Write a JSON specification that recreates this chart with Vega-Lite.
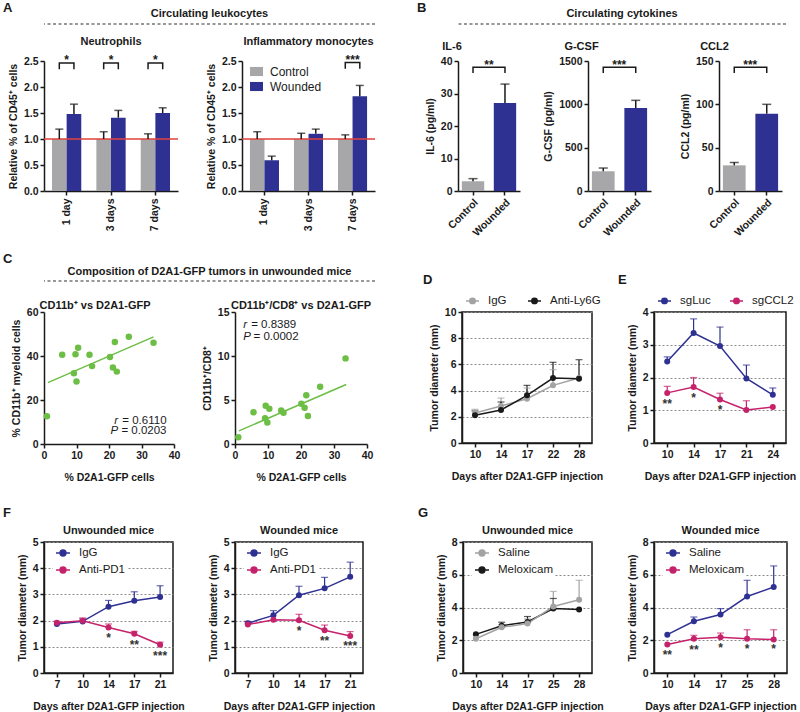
{
"$schema": "https://vega.github.io/schema/vega-lite/v6.json",
"padding": {"left": 0, "top": 2, "right": 0, "bottom": 0},
"background": "white",
"datasets": {
 "leuko": [
  {"panel":"Neutrophils","day":"1 day","group":"Control","value":1.0,"err":1.19},
  {"panel":"Neutrophils","day":"1 day","group":"Wounded","value":1.48,"err":1.67},
  {"panel":"Neutrophils","day":"3 days","group":"Control","value":1.0,"err":1.14},
  {"panel":"Neutrophils","day":"3 days","group":"Wounded","value":1.41,"err":1.55},
  {"panel":"Neutrophils","day":"7 days","group":"Control","value":1.0,"err":1.1},
  {"panel":"Neutrophils","day":"7 days","group":"Wounded","value":1.5,"err":1.6},
  {"panel":"Monocytes","day":"1 day","group":"Control","value":1.0,"err":1.14},
  {"panel":"Monocytes","day":"1 day","group":"Wounded","value":0.59,"err":0.67},
  {"panel":"Monocytes","day":"3 days","group":"Control","value":1.0,"err":1.11},
  {"panel":"Monocytes","day":"3 days","group":"Wounded","value":1.1,"err":1.19},
  {"panel":"Monocytes","day":"7 days","group":"Control","value":1.0,"err":1.08},
  {"panel":"Monocytes","day":"7 days","group":"Wounded","value":1.82,"err":2.03}
 ],
 "leukoRef": [{"panel":"Neutrophils","value":1.0},{"panel":"Monocytes","value":1.0}],
 "leukoBr": [
  {"panel":"Neutrophils","day":"1 day","id":"n1","group":"Control","value":2.34,"ord":1},
  {"panel":"Neutrophils","day":"1 day","id":"n1","group":"Control","value":2.46,"ord":2},
  {"panel":"Neutrophils","day":"1 day","id":"n1","group":"Wounded","value":2.46,"ord":3},
  {"panel":"Neutrophils","day":"1 day","id":"n1","group":"Wounded","value":2.34,"ord":4},
  {"panel":"Neutrophils","day":"3 days","id":"n3","group":"Control","value":2.34,"ord":1},
  {"panel":"Neutrophils","day":"3 days","id":"n3","group":"Control","value":2.46,"ord":2},
  {"panel":"Neutrophils","day":"3 days","id":"n3","group":"Wounded","value":2.46,"ord":3},
  {"panel":"Neutrophils","day":"3 days","id":"n3","group":"Wounded","value":2.34,"ord":4},
  {"panel":"Neutrophils","day":"7 days","id":"n7","group":"Control","value":2.34,"ord":1},
  {"panel":"Neutrophils","day":"7 days","id":"n7","group":"Control","value":2.46,"ord":2},
  {"panel":"Neutrophils","day":"7 days","id":"n7","group":"Wounded","value":2.46,"ord":3},
  {"panel":"Neutrophils","day":"7 days","id":"n7","group":"Wounded","value":2.34,"ord":4},
  {"panel":"Monocytes","day":"7 days","id":"m7","group":"Control","value":2.35,"ord":1},
  {"panel":"Monocytes","day":"7 days","id":"m7","group":"Control","value":2.47,"ord":2},
  {"panel":"Monocytes","day":"7 days","id":"m7","group":"Wounded","value":2.47,"ord":3},
  {"panel":"Monocytes","day":"7 days","id":"m7","group":"Wounded","value":2.35,"ord":4}
 ],
 "leukoSig": [
  {"panel":"Neutrophils","day":"1 day","label":"*","value":2.57},
  {"panel":"Neutrophils","day":"3 days","label":"*","value":2.57},
  {"panel":"Neutrophils","day":"7 days","label":"*","value":2.57},
  {"panel":"Monocytes","day":"7 days","label":"***","value":2.57}
 ],
 "cyto": [
  {"panel":"IL-6","group":"Control","value":3.0,"err":3.8},
  {"panel":"IL-6","group":"Wounded","value":27.1,"err":32.9},
  {"panel":"G-CSF","group":"Control","value":228,"err":265},
  {"panel":"G-CSF","group":"Wounded","value":958,"err":1046},
  {"panel":"CCL2","group":"Control","value":29.6,"err":33},
  {"panel":"CCL2","group":"Wounded","value":89.2,"err":100}
 ],
 "cytoBr": [
  {"panel":"IL-6","group":"Control","value":36.3,"ord":1},
  {"panel":"IL-6","group":"Control","value":38.1,"ord":2},
  {"panel":"IL-6","group":"Wounded","value":38.1,"ord":3},
  {"panel":"IL-6","group":"Wounded","value":36.3,"ord":4},
  {"panel":"G-CSF","group":"Control","value":1362,"ord":1},
  {"panel":"G-CSF","group":"Control","value":1428,"ord":2},
  {"panel":"G-CSF","group":"Wounded","value":1428,"ord":3},
  {"panel":"G-CSF","group":"Wounded","value":1362,"ord":4},
  {"panel":"CCL2","group":"Control","value":136.2,"ord":1},
  {"panel":"CCL2","group":"Control","value":142.7,"ord":2},
  {"panel":"CCL2","group":"Wounded","value":142.7,"ord":3},
  {"panel":"CCL2","group":"Wounded","value":136.2,"ord":4}
 ],
 "cytoSig": [
  {"panel":"IL-6","group":"Control","label":"**","value":39.6},
  {"panel":"G-CSF","group":"Control","label":"***","value":1486},
  {"panel":"CCL2","group":"Control","label":"***","value":148.6}
 ],
 "scat": [
  {"panel":"C1","x":0.9,"y":12.6},{"panel":"C1","x":5.6,"y":40.6},{"panel":"C1","x":9.7,"y":40.8},
  {"panel":"C1","x":9.2,"y":32.2},{"panel":"C1","x":10.0,"y":28.4},{"panel":"C1","x":10.5,"y":43.7},
  {"panel":"C1","x":14.0,"y":40.6},{"panel":"C1","x":14.8,"y":35.4},{"panel":"C1","x":20.3,"y":39.5},
  {"panel":"C1","x":21.2,"y":34.8},{"panel":"C1","x":21.8,"y":46.4},{"panel":"C1","x":22.4,"y":32.9},
  {"panel":"C1","x":26.1,"y":48.7},{"panel":"C1","x":33.7,"y":46.0},
  {"panel":"C2","x":1.0,"y":0.76},{"panel":"C2","x":5.6,"y":3.6},{"panel":"C2","x":9.3,"y":4.35},
  {"panel":"C2","x":10.4,"y":4.0},{"panel":"C2","x":9.1,"y":2.94},{"panel":"C2","x":9.8,"y":2.44},
  {"panel":"C2","x":14.0,"y":3.8},{"panel":"C2","x":14.7,"y":3.55},{"panel":"C2","x":20.1,"y":4.58},
  {"panel":"C2","x":21.1,"y":4.12},{"panel":"C2","x":21.6,"y":5.53},{"panel":"C2","x":22.1,"y":3.17},
  {"panel":"C2","x":25.8,"y":6.5},{"panel":"C2","x":33.5,"y":9.73}
 ],
 "scatLine": [
  {"panel":"C1","x":1.2,"y":27.9},{"panel":"C1","x":33.7,"y":48.7},
  {"panel":"C2","x":1.2,"y":1.49},{"panel":"C2","x":33.7,"y":6.76}
 ],
 "scatText": [
  {"panel":"C1","style":"italic","x":22.8,"y":10.6,"text":"r"},
  {"panel":"C1","style":"normal","x":37.7,"y":10.6,"text":"= 0.6110"},
  {"panel":"C1","style":"italic","x":22.8,"y":5.8,"text":"P"},
  {"panel":"C1","style":"normal","x":37.7,"y":5.8,"text":"= 0.0203"},
  {"panel":"C2","style":"italic","x":2.5,"y":13.55,"text":"r"},
  {"panel":"C2","style":"normal","x":4.9,"y":13.55,"text":"= 0.8389"},
  {"panel":"C2","style":"italic","x":2.5,"y":12.2,"text":"P"},
  {"panel":"C2","style":"normal","x":5.6,"y":12.2,"text":"= 0.0002"}
 ],
 "tumor": [
  {"panel":"D","series":"IgG","day":10,"value":2.29,"err":2.57},
  {"panel":"D","series":"IgG","day":14,"value":2.82,"err":3.43},
  {"panel":"D","series":"IgG","day":17,"value":3.38,"err":4.2},
  {"panel":"D","series":"IgG","day":22,"value":4.4,"err":5.6},
  {"panel":"D","series":"IgG","day":28,"value":4.96},
  {"panel":"D","series":"Anti-Ly6G","day":10,"value":2.11,"err":2.45},
  {"panel":"D","series":"Anti-Ly6G","day":14,"value":2.52,"err":3.13},
  {"panel":"D","series":"Anti-Ly6G","day":17,"value":3.64,"err":4.4},
  {"panel":"D","series":"Anti-Ly6G","day":22,"value":4.96,"err":6.16},
  {"panel":"D","series":"Anti-Ly6G","day":28,"value":4.91,"err":6.36},
  {"panel":"E","series":"sgLuc","day":10,"value":2.49,"err":2.63},
  {"panel":"E","series":"sgLuc","day":14,"value":3.36,"err":3.79},
  {"panel":"E","series":"sgLuc","day":17,"value":2.96,"err":3.54},
  {"panel":"E","series":"sgLuc","day":21,"value":1.97,"err":2.38},
  {"panel":"E","series":"sgLuc","day":24,"value":1.47,"err":1.68},
  {"panel":"E","series":"sgCCL2","day":10,"value":1.53,"err":1.73},
  {"panel":"E","series":"sgCCL2","day":14,"value":1.71,"err":2.0},
  {"panel":"E","series":"sgCCL2","day":17,"value":1.33,"err":1.52},
  {"panel":"E","series":"sgCCL2","day":21,"value":1.01,"err":1.29},
  {"panel":"E","series":"sgCCL2","day":24,"value":1.1},
  {"panel":"F1","series":"IgG","day":7,"value":1.87},
  {"panel":"F1","series":"IgG","day":10,"value":1.97,"err":2.06},
  {"panel":"F1","series":"IgG","day":14,"value":2.53,"err":2.77},
  {"panel":"F1","series":"IgG","day":17,"value":2.76,"err":3.1},
  {"panel":"F1","series":"IgG","day":21,"value":2.9,"err":3.33},
  {"panel":"F1","series":"Anti-PD1","day":7,"value":1.92,"err":1.97},
  {"panel":"F1","series":"Anti-PD1","day":10,"value":1.99,"err":2.1},
  {"panel":"F1","series":"Anti-PD1","day":14,"value":1.74,"err":1.87},
  {"panel":"F1","series":"Anti-PD1","day":17,"value":1.5,"err":1.59},
  {"panel":"F1","series":"Anti-PD1","day":21,"value":1.08,"err":1.18},
  {"panel":"F2","series":"IgG","day":7,"value":1.9,"err":1.97},
  {"panel":"F2","series":"IgG","day":10,"value":2.2,"err":2.38},
  {"panel":"F2","series":"IgG","day":14,"value":2.97,"err":3.31},
  {"panel":"F2","series":"IgG","day":17,"value":3.23,"err":3.65},
  {"panel":"F2","series":"IgG","day":21,"value":3.67,"err":4.23},
  {"panel":"F2","series":"Anti-PD1","day":7,"value":1.85,"err":1.96},
  {"panel":"F2","series":"Anti-PD1","day":10,"value":2.03},
  {"panel":"F2","series":"Anti-PD1","day":14,"value":2.01,"err":2.24},
  {"panel":"F2","series":"Anti-PD1","day":17,"value":1.63,"err":1.83},
  {"panel":"F2","series":"Anti-PD1","day":21,"value":1.41,"err":1.58},
  {"panel":"G1","series":"Meloxicam","day":10,"value":2.36},
  {"panel":"G1","series":"Meloxicam","day":14,"value":2.89,"err":3.1},
  {"panel":"G1","series":"Meloxicam","day":17,"value":3.12,"err":3.45},
  {"panel":"G1","series":"Meloxicam","day":25,"value":3.94,"err":4.55},
  {"panel":"G1","series":"Meloxicam","day":28,"value":3.88},
  {"panel":"G1","series":"Saline","day":10,"value":2.09},
  {"panel":"G1","series":"Saline","day":14,"value":2.79,"err":2.95},
  {"panel":"G1","series":"Saline","day":17,"value":3.02,"err":3.3},
  {"panel":"G1","series":"Saline","day":25,"value":4.06,"err":4.98},
  {"panel":"G1","series":"Saline","day":28,"value":4.47,"err":5.66},
  {"panel":"G2","series":"Saline","day":10,"value":2.34},
  {"panel":"G2","series":"Saline","day":14,"value":3.16,"err":3.42},
  {"panel":"G2","series":"Saline","day":17,"value":3.57,"err":3.93},
  {"panel":"G2","series":"Saline","day":25,"value":4.67,"err":5.66},
  {"panel":"G2","series":"Saline","day":28,"value":5.25,"err":6.54},
  {"panel":"G2","series":"Meloxicam","day":10,"value":1.74},
  {"panel":"G2","series":"Meloxicam","day":14,"value":2.09,"err":2.3},
  {"panel":"G2","series":"Meloxicam","day":17,"value":2.19,"err":2.44},
  {"panel":"G2","series":"Meloxicam","day":25,"value":2.09,"err":2.64},
  {"panel":"G2","series":"Meloxicam","day":28,"value":2.05,"err":2.64}
 ],
 "tumorSig": [
  {"panel":"E","day":10,"label":"**","value":1.29},
  {"panel":"E","day":14,"label":"*","value":1.48},
  {"panel":"E","day":17,"label":"*","value":1.11},
  {"panel":"F1","day":14,"label":"*","value":1.46},
  {"panel":"F1","day":17,"label":"**","value":1.18},
  {"panel":"F1","day":21,"label":"***","value":0.77},
  {"panel":"F2","day":14,"label":"*","value":1.73},
  {"panel":"F2","day":17,"label":"**","value":1.35},
  {"panel":"F2","day":21,"label":"***","value":1.15},
  {"panel":"G2","day":10,"label":"**","value":1.27},
  {"panel":"G2","day":14,"label":"**","value":1.58},
  {"panel":"G2","day":17,"label":"*","value":1.74},
  {"panel":"G2","day":25,"label":"*","value":1.62},
  {"panel":"G2","day":28,"label":"*","value":1.62}
 ],
 "one": [{"k": 1}],
 "none": []
},
"spacing": 0,
"resolve": {"scale": {"color": "independent", "xOffset": "independent"}, "legend": {"color": "independent"}},
"vconcat": [
 {
  "hconcat": [
   {"width": 44, "height": 1, "title": {"text": "A", "anchor": "start", "dx": 3, "offset": 9, "fontSize": 13}, "data": {"name": "none"}, "mark": "rule", "encoding": {}},
   {"width": 331, "height": 1, "title": {"text": "Circulating leukocytes", "offset": 4}, "data": {"name": "one"}, "mark": {"type": "rule", "strokeDash": [3, 2.5], "color": "#333333", "strokeWidth": 1.2}, "encoding": {"y": {"datum": 1, "type": "quantitative", "scale": {"domain": [0, 1]}, "axis": null}}},
   {"width": 83, "height": 1, "title": {"text": "B", "anchor": "start", "dx": 42, "offset": 9, "fontSize": 13}, "data": {"name": "none"}, "mark": "rule", "encoding": {}},
   {"width": 328, "height": 1, "title": {"text": "Circulating cytokines", "offset": 4}, "data": {"name": "one"}, "mark": {"type": "rule", "strokeDash": [3, 2.5], "color": "#333333", "strokeWidth": 1.2}, "encoding": {"y": {"datum": 1, "type": "quantitative", "scale": {"domain": [0, 1]}, "axis": null}}}
  ],
  "spacing": 0, "bounds": "flush"
 },
 {"width": 1, "height": 11, "data": {"name": "none"}, "mark": "rule", "encoding": {}},
 {
  "hconcat": [
   {"width": 44, "height": 130, "data": {"name": "none"}, "mark": "rule", "encoding": {}},
   {
    "width": 134, "height": 130,
    "title": {"text": "Neutrophils", "offset": 7},
    "layer": [
     {"data": {"name": "leuko"}, "transform": [{"filter": "datum.panel === 'Neutrophils'"}], "mark": {"type": "bar"},
      "encoding": {
       "x": {"field": "day", "type": "nominal", "sort": ["1 day", "3 days", "7 days"], "scale": {"paddingInner": 0.34, "paddingOuter": 0.18}, "axis": {"labelAngle": -90, "title": null, "labelPadding": 3}},
       "xOffset": {"field": "group", "type": "nominal", "sort": ["Control", "Wounded"], "scale": {"paddingInner": 0, "paddingOuter": 0}},
       "y": {"field": "value", "type": "quantitative", "scale": {"domain": [0, 2.5]}, "axis": {"values": [0, 0.5, 1, 1.5, 2, 2.5], "format": ".1f", "labelOverlap": false}, "title": "Relative % of CD45⁺ cells"},
       "color": {"field": "group", "type": "nominal", "scale": {"domain": ["Control", "Wounded"], "range": ["#a7a7aa", "#2e3192"]}, "legend": null}
      }},
     {"data": {"name": "leukoRef"}, "transform": [{"filter": "datum.panel === 'Neutrophils'"}], "mark": {"type": "rule", "color": "#e2423b", "strokeWidth": 1.5},
      "encoding": {"y": {"field": "value", "type": "quantitative", "scale": {"domain": [0, 2.5]}, "axis": {"values": [0, 0.5, 1, 1.5, 2, 2.5], "format": ".1f", "labelOverlap": false}, "title": "Relative % of CD45⁺ cells"}}},
     {"data": {"name": "leuko"}, "transform": [{"filter": "datum.panel === 'Neutrophils'"}], "mark": {"type": "rule", "color": "#1a1a1a", "strokeWidth": 1.5},
      "encoding": {
       "x": {"field": "day", "type": "nominal", "sort": ["1 day", "3 days", "7 days"]},
       "xOffset": {"field": "group", "type": "nominal", "sort": ["Control", "Wounded"]},
       "y": {"field": "value", "type": "quantitative", "scale": {"domain": [0, 2.5]}, "axis": {"values": [0, 0.5, 1, 1.5, 2, 2.5], "format": ".1f", "labelOverlap": false}, "title": "Relative % of CD45⁺ cells"},
       "y2": {"field": "err"}
      }},
     {"data": {"name": "leuko"}, "transform": [{"filter": "datum.panel === 'Neutrophils'"}], "mark": {"type": "tick", "orient": "horizontal", "color": "#1a1a1a", "size": 8, "thickness": 1.5},
      "encoding": {
       "x": {"field": "day", "type": "nominal", "sort": ["1 day", "3 days", "7 days"]},
       "xOffset": {"field": "group", "type": "nominal", "sort": ["Control", "Wounded"]},
       "y": {"field": "err", "type": "quantitative", "scale": {"domain": [0, 2.5]}, "axis": {"values": [0, 0.5, 1, 1.5, 2, 2.5], "format": ".1f", "labelOverlap": false}, "title": "Relative % of CD45⁺ cells"}
      }},
     {"data": {"name": "leukoBr"}, "transform": [{"filter": "datum.panel === 'Neutrophils'"}], "mark": {"type": "line", "color": "#1a1a1a", "strokeWidth": 1.5},
      "encoding": {
       "x": {"field": "day", "type": "nominal", "sort": ["1 day", "3 days", "7 days"]},
       "xOffset": {"field": "group", "type": "nominal", "sort": ["Control", "Wounded"]},
       "y": {"field": "value", "type": "quantitative", "scale": {"domain": [0, 2.5]}, "axis": {"values": [0, 0.5, 1, 1.5, 2, 2.5], "format": ".1f", "labelOverlap": false}, "title": "Relative % of CD45⁺ cells"},
       "order": {"field": "ord"},
       "detail": {"field": "id"}
      }},
     {"data": {"name": "leukoSig"}, "transform": [{"filter": "datum.panel === 'Neutrophils'"}], "mark": {"type": "text", "fontSize": 12, "fontWeight": "bold", "color": "#1a1a1a", "baseline": "middle", "dy": 3},
      "encoding": {
       "x": {"field": "day", "type": "nominal", "sort": ["1 day", "3 days", "7 days"]},
       "y": {"field": "value", "type": "quantitative", "scale": {"domain": [0, 2.5]}, "axis": {"values": [0, 0.5, 1, 1.5, 2, 2.5], "format": ".1f", "labelOverlap": false}, "title": "Relative % of CD45⁺ cells"},
       "text": {"field": "label"}
      }}
    ]
   },
   {"width": 64, "height": 130, "data": {"name": "none"}, "mark": "rule", "encoding": {}},
   {
    "width": 133, "height": 130,
    "title": {"text": "Inflammatory monocytes", "offset": 7},
    "layer": [
     {"data": {"name": "leuko"}, "transform": [{"filter": "datum.panel === 'Monocytes'"}], "mark": {"type": "bar"},
      "encoding": {
       "x": {"field": "day", "type": "nominal", "sort": ["1 day", "3 days", "7 days"], "scale": {"paddingInner": 0.34, "paddingOuter": 0.18}, "axis": {"labelAngle": -90, "title": null, "labelPadding": 3}},
       "xOffset": {"field": "group", "type": "nominal", "sort": ["Control", "Wounded"], "scale": {"paddingInner": 0, "paddingOuter": 0}},
       "y": {"field": "value", "type": "quantitative", "scale": {"domain": [0, 2.5]}, "axis": {"values": [0, 0.5, 1, 1.5, 2, 2.5], "format": ".1f", "labelOverlap": false}, "title": "Relative % of CD45⁺ cells"},
       "color": {"field": "group", "type": "nominal", "scale": {"domain": ["Control", "Wounded"], "range": ["#a7a7aa", "#2e3192"]},
        "legend": {"orient": "none", "legendX": 8, "legendY": 4, "title": null, "symbolType": "M-1,-0.7H1V0.7H-1Z", "symbolSize": 169, "symbolStrokeWidth": 0, "labelFontSize": 12, "labelOffset": 7, "rowPadding": 2, "padding": 0}}
      }},
     {"data": {"name": "leukoRef"}, "transform": [{"filter": "datum.panel === 'Monocytes'"}], "mark": {"type": "rule", "color": "#e2423b", "strokeWidth": 1.5},
      "encoding": {"y": {"field": "value", "type": "quantitative", "scale": {"domain": [0, 2.5]}, "axis": {"values": [0, 0.5, 1, 1.5, 2, 2.5], "format": ".1f", "labelOverlap": false}, "title": "Relative % of CD45⁺ cells"}}},
     {"data": {"name": "leuko"}, "transform": [{"filter": "datum.panel === 'Monocytes'"}], "mark": {"type": "rule", "color": "#1a1a1a", "strokeWidth": 1.5},
      "encoding": {
       "x": {"field": "day", "type": "nominal", "sort": ["1 day", "3 days", "7 days"]},
       "xOffset": {"field": "group", "type": "nominal", "sort": ["Control", "Wounded"]},
       "y": {"field": "value", "type": "quantitative", "scale": {"domain": [0, 2.5]}, "axis": {"values": [0, 0.5, 1, 1.5, 2, 2.5], "format": ".1f", "labelOverlap": false}, "title": "Relative % of CD45⁺ cells"},
       "y2": {"field": "err"}
      }},
     {"data": {"name": "leuko"}, "transform": [{"filter": "datum.panel === 'Monocytes'"}], "mark": {"type": "tick", "orient": "horizontal", "color": "#1a1a1a", "size": 8, "thickness": 1.5},
      "encoding": {
       "x": {"field": "day", "type": "nominal", "sort": ["1 day", "3 days", "7 days"]},
       "xOffset": {"field": "group", "type": "nominal", "sort": ["Control", "Wounded"]},
       "y": {"field": "err", "type": "quantitative", "scale": {"domain": [0, 2.5]}, "axis": {"values": [0, 0.5, 1, 1.5, 2, 2.5], "format": ".1f", "labelOverlap": false}, "title": "Relative % of CD45⁺ cells"}
      }},
     {"data": {"name": "leukoBr"}, "transform": [{"filter": "datum.panel === 'Monocytes'"}], "mark": {"type": "line", "color": "#1a1a1a", "strokeWidth": 1.5},
      "encoding": {
       "x": {"field": "day", "type": "nominal", "sort": ["1 day", "3 days", "7 days"]},
       "xOffset": {"field": "group", "type": "nominal", "sort": ["Control", "Wounded"]},
       "y": {"field": "value", "type": "quantitative", "scale": {"domain": [0, 2.5]}, "axis": {"values": [0, 0.5, 1, 1.5, 2, 2.5], "format": ".1f", "labelOverlap": false}, "title": "Relative % of CD45⁺ cells"},
       "order": {"field": "ord"},
       "detail": {"field": "id"}
      }},
     {"data": {"name": "leukoSig"}, "transform": [{"filter": "datum.panel === 'Monocytes'"}], "mark": {"type": "text", "fontSize": 12, "fontWeight": "bold", "color": "#1a1a1a", "baseline": "middle", "dy": 3},
      "encoding": {
       "x": {"field": "day", "type": "nominal", "sort": ["1 day", "3 days", "7 days"]},
       "y": {"field": "value", "type": "quantitative", "scale": {"domain": [0, 2.5]}, "axis": {"values": [0, 0.5, 1, 1.5, 2, 2.5], "format": ".1f", "labelOverlap": false}, "title": "Relative % of CD45⁺ cells"},
       "text": {"field": "label"}
      }}
    ]
   },
   {"width": 83, "height": 130, "data": {"name": "none"}, "mark": "rule", "encoding": {}},
   {
    "width": 62, "height": 130,
    "title": {"text": "IL-6", "offset": 4, "dx": -37},
    "layer": [
     {"data": {"name": "cyto"}, "transform": [{"filter": "datum.panel === 'IL-6'"}], "mark": {"type": "bar"},
      "encoding": {
       "x": {"field": "group", "type": "nominal", "sort": ["Control", "Wounded"], "scale": {"paddingInner": 0.3, "paddingOuter": 0.12}, "axis": {"labelAngle": -45, "title": null}},
       "y": {"field": "value", "type": "quantitative", "scale": {"domain": [0, 40]}, "axis": {"values": [0, 10, 20, 30, 40], "labelOverlap": false}, "title": "IL-6 (pg/ml)"},
       "color": {"field": "group", "type": "nominal", "scale": {"domain": ["Control", "Wounded"], "range": ["#a7a7aa", "#2e3192"]}, "legend": null}
      }},
     {"data": {"name": "cyto"}, "transform": [{"filter": "datum.panel === 'IL-6'"}], "mark": {"type": "rule", "color": "#1a1a1a", "strokeWidth": 1.5},
      "encoding": {"x": {"field": "group", "type": "nominal", "sort": ["Control", "Wounded"]}, "y": {"field": "value", "type": "quantitative", "scale": {"domain": [0, 40]}, "axis": {"values": [0, 10, 20, 30, 40], "labelOverlap": false}, "title": "IL-6 (pg/ml)"}, "y2": {"field": "err"}}},
     {"data": {"name": "cyto"}, "transform": [{"filter": "datum.panel === 'IL-6'"}], "mark": {"type": "tick", "orient": "horizontal", "color": "#1a1a1a", "size": 9, "thickness": 1.5},
      "encoding": {"x": {"field": "group", "type": "nominal", "sort": ["Control", "Wounded"]}, "y": {"field": "err", "type": "quantitative", "scale": {"domain": [0, 40]}, "axis": {"values": [0, 10, 20, 30, 40], "labelOverlap": false}, "title": "IL-6 (pg/ml)"}}},
     {"data": {"name": "cytoBr"}, "transform": [{"filter": "datum.panel === 'IL-6'"}], "mark": {"type": "line", "color": "#1a1a1a", "strokeWidth": 1.5},
      "encoding": {"x": {"field": "group", "type": "nominal", "sort": ["Control", "Wounded"]}, "y": {"field": "value", "type": "quantitative", "scale": {"domain": [0, 40]}, "axis": {"values": [0, 10, 20, 30, 40], "labelOverlap": false}, "title": "IL-6 (pg/ml)"}, "order": {"field": "ord"}}},
     {"data": {"name": "cytoSig"}, "transform": [{"filter": "datum.panel === 'IL-6'"}], "mark": {"type": "text", "fontSize": 12, "fontWeight": "bold", "color": "#1a1a1a", "baseline": "middle", "dy": 3, "dx": 16},
      "encoding": {"x": {"field": "group", "type": "nominal", "sort": ["Control", "Wounded"]}, "y": {"field": "value", "type": "quantitative", "scale": {"domain": [0, 40]}, "axis": {"values": [0, 10, 20, 30, 40], "labelOverlap": false}, "title": "IL-6 (pg/ml)"}, "text": {"field": "label"}}}
    ]
   },
   {"width": 68, "height": 130, "data": {"name": "none"}, "mark": "rule", "encoding": {}},
   {
    "width": 63, "height": 130,
    "title": {"text": "G-CSF", "offset": 4, "dx": -38},
    "layer": [
     {"data": {"name": "cyto"}, "transform": [{"filter": "datum.panel === 'G-CSF'"}], "mark": {"type": "bar"},
      "encoding": {
       "x": {"field": "group", "type": "nominal", "sort": ["Control", "Wounded"], "scale": {"paddingInner": 0.3, "paddingOuter": 0.12}, "axis": {"labelAngle": -45, "title": null}},
       "y": {"field": "value", "type": "quantitative", "scale": {"domain": [0, 1500]}, "axis": {"values": [0, 500, 1000, 1500], "format": "d", "labelOverlap": false}, "title": "G-CSF (pg/ml)"},
       "color": {"field": "group", "type": "nominal", "scale": {"domain": ["Control", "Wounded"], "range": ["#a7a7aa", "#2e3192"]}, "legend": null}
      }},
     {"data": {"name": "cyto"}, "transform": [{"filter": "datum.panel === 'G-CSF'"}], "mark": {"type": "rule", "color": "#1a1a1a", "strokeWidth": 1.5},
      "encoding": {"x": {"field": "group", "type": "nominal", "sort": ["Control", "Wounded"]}, "y": {"field": "value", "type": "quantitative", "scale": {"domain": [0, 1500]}, "axis": {"values": [0, 500, 1000, 1500], "format": "d", "labelOverlap": false}, "title": "G-CSF (pg/ml)"}, "y2": {"field": "err"}}},
     {"data": {"name": "cyto"}, "transform": [{"filter": "datum.panel === 'G-CSF'"}], "mark": {"type": "tick", "orient": "horizontal", "color": "#1a1a1a", "size": 9, "thickness": 1.5},
      "encoding": {"x": {"field": "group", "type": "nominal", "sort": ["Control", "Wounded"]}, "y": {"field": "err", "type": "quantitative", "scale": {"domain": [0, 1500]}, "axis": {"values": [0, 500, 1000, 1500], "format": "d", "labelOverlap": false}, "title": "G-CSF (pg/ml)"}}},
     {"data": {"name": "cytoBr"}, "transform": [{"filter": "datum.panel === 'G-CSF'"}], "mark": {"type": "line", "color": "#1a1a1a", "strokeWidth": 1.5},
      "encoding": {"x": {"field": "group", "type": "nominal", "sort": ["Control", "Wounded"]}, "y": {"field": "value", "type": "quantitative", "scale": {"domain": [0, 1500]}, "axis": {"values": [0, 500, 1000, 1500], "format": "d", "labelOverlap": false}, "title": "G-CSF (pg/ml)"}, "order": {"field": "ord"}}},
     {"data": {"name": "cytoSig"}, "transform": [{"filter": "datum.panel === 'G-CSF'"}], "mark": {"type": "text", "fontSize": 12, "fontWeight": "bold", "color": "#1a1a1a", "baseline": "middle", "dy": 3, "dx": 16},
      "encoding": {"x": {"field": "group", "type": "nominal", "sort": ["Control", "Wounded"]}, "y": {"field": "value", "type": "quantitative", "scale": {"domain": [0, 1500]}, "axis": {"values": [0, 500, 1000, 1500], "format": "d", "labelOverlap": false}, "title": "G-CSF (pg/ml)"}, "text": {"field": "label"}}}
    ]
   },
   {"width": 68, "height": 130, "data": {"name": "none"}, "mark": "rule", "encoding": {}},
   {
    "width": 63, "height": 130,
    "title": {"text": "CCL2", "offset": 4, "dx": -36},
    "layer": [
     {"data": {"name": "cyto"}, "transform": [{"filter": "datum.panel === 'CCL2'"}], "mark": {"type": "bar"},
      "encoding": {
       "x": {"field": "group", "type": "nominal", "sort": ["Control", "Wounded"], "scale": {"paddingInner": 0.3, "paddingOuter": 0.12}, "axis": {"labelAngle": -45, "title": null}},
       "y": {"field": "value", "type": "quantitative", "scale": {"domain": [0, 150]}, "axis": {"values": [0, 50, 100, 150], "labelOverlap": false}, "title": "CCL2 (pg/ml)"},
       "color": {"field": "group", "type": "nominal", "scale": {"domain": ["Control", "Wounded"], "range": ["#a7a7aa", "#2e3192"]}, "legend": null}
      }},
     {"data": {"name": "cyto"}, "transform": [{"filter": "datum.panel === 'CCL2'"}], "mark": {"type": "rule", "color": "#1a1a1a", "strokeWidth": 1.5},
      "encoding": {"x": {"field": "group", "type": "nominal", "sort": ["Control", "Wounded"]}, "y": {"field": "value", "type": "quantitative", "scale": {"domain": [0, 150]}, "axis": {"values": [0, 50, 100, 150], "labelOverlap": false}, "title": "CCL2 (pg/ml)"}, "y2": {"field": "err"}}},
     {"data": {"name": "cyto"}, "transform": [{"filter": "datum.panel === 'CCL2'"}], "mark": {"type": "tick", "orient": "horizontal", "color": "#1a1a1a", "size": 9, "thickness": 1.5},
      "encoding": {"x": {"field": "group", "type": "nominal", "sort": ["Control", "Wounded"]}, "y": {"field": "err", "type": "quantitative", "scale": {"domain": [0, 150]}, "axis": {"values": [0, 50, 100, 150], "labelOverlap": false}, "title": "CCL2 (pg/ml)"}}},
     {"data": {"name": "cytoBr"}, "transform": [{"filter": "datum.panel === 'CCL2'"}], "mark": {"type": "line", "color": "#1a1a1a", "strokeWidth": 1.5},
      "encoding": {"x": {"field": "group", "type": "nominal", "sort": ["Control", "Wounded"]}, "y": {"field": "value", "type": "quantitative", "scale": {"domain": [0, 150]}, "axis": {"values": [0, 50, 100, 150], "labelOverlap": false}, "title": "CCL2 (pg/ml)"}, "order": {"field": "ord"}}},
     {"data": {"name": "cytoSig"}, "transform": [{"filter": "datum.panel === 'CCL2'"}], "mark": {"type": "text", "fontSize": 12, "fontWeight": "bold", "color": "#1a1a1a", "baseline": "middle", "dy": 3, "dx": 16},
      "encoding": {"x": {"field": "group", "type": "nominal", "sort": ["Control", "Wounded"]}, "y": {"field": "value", "type": "quantitative", "scale": {"domain": [0, 150]}, "axis": {"values": [0, 50, 100, 150], "labelOverlap": false}, "title": "CCL2 (pg/ml)"}, "text": {"field": "label"}}}
    ]
   }
  ],
  "spacing": 0, "bounds": "flush",
  "resolve": {"scale": {"color": "independent", "xOffset": "independent"}, "legend": {"color": "independent"}}
 },
 {"width": 1, "height": 14, "data": {"name": "none"}, "mark": "rule", "encoding": {}},
 {
  "hconcat": [
   {"width": 44, "height": 1, "title": {"text": "C", "anchor": "start", "dx": 3, "offset": 15, "fontSize": 13}, "data": {"name": "none"}, "mark": "rule", "encoding": {}},
   {"width": 331, "height": 1, "title": {"text": "Composition of D2A1-GFP tumors in unwounded mice", "offset": 3}, "data": {"name": "one"}, "mark": {"type": "rule", "strokeDash": [3, 2.5], "color": "#333333", "strokeWidth": 1.2}, "encoding": {"y": {"datum": 1, "type": "quantitative", "scale": {"domain": [0, 1]}, "axis": null}}},
   {"width": 87, "height": 1, "title": {"text": "D", "anchor": "start", "dx": 48, "offset": -6, "fontSize": 13}, "data": {"name": "none"}, "mark": "rule", "encoding": {}},
   {"width": 130, "height": 1, "data": {"name": "none"}, "mark": "rule", "encoding": {}},
   {"width": 62, "height": 1, "title": {"text": "E", "anchor": "start", "dx": 26, "offset": -6, "fontSize": 13}, "data": {"name": "none"}, "mark": "rule", "encoding": {}}
  ],
  "spacing": 0, "bounds": "flush"
 },
 {"width": 1, "height": 5, "data": {"name": "none"}, "mark": "rule", "encoding": {}},
 {
  "hconcat": [
   {"width": 44, "height": 132, "data": {"name": "none"}, "mark": "rule", "encoding": {}},
   {
    "width": 130, "height": 132,
    "title": {"text": "CD11b⁺ vs D2A1-GFP", "offset": -4, "dx": -14},
    "encoding": {
     "x": {"field": "x", "type": "quantitative", "scale": {"domain": [0, 40]}, "axis": {"values": [0, 10, 20, 30, 40], "titlePadding": 12}, "title": "% D2A1-GFP cells"},
     "y": {"field": "y", "type": "quantitative", "scale": {"domain": [0, 60]}, "axis": {"values": [0, 20, 40, 60]}, "title": "% CD11b⁺ myeloid cells"}
    },
    "layer": [
     {"data": {"name": "scatLine"}, "transform": [{"filter": "datum.panel === 'C1'"}], "mark": {"type": "line", "color": "#6cbe45", "strokeWidth": 1.5}, "encoding": {}},
     {"data": {"name": "scat"}, "transform": [{"filter": "datum.panel === 'C1'"}], "mark": {"type": "point", "filled": true, "size": 42, "color": "#6cbe45", "opacity": 1}, "encoding": {}},
     {"data": {"name": "scatText"}, "transform": [{"filter": "datum.panel === 'C1' && datum.style === 'italic'"}], "mark": {"type": "text", "fontStyle": "italic", "fontSize": 11.5, "align": "right", "baseline": "middle", "color": "#1a1a1a"}, "encoding": {"text": {"field": "text"}}},
     {"data": {"name": "scatText"}, "transform": [{"filter": "datum.panel === 'C1' && datum.style === 'normal'"}], "mark": {"type": "text", "fontSize": 11.5, "align": "right", "baseline": "middle", "color": "#1a1a1a"}, "encoding": {"text": {"field": "text"}}}
    ]
   },
   {"width": 61, "height": 132, "data": {"name": "none"}, "mark": "rule", "encoding": {}},
   {
    "width": 132, "height": 132,
    "title": {"text": "CD11b⁺/CD8⁺ vs D2A1-GFP", "offset": -4},
    "encoding": {
     "x": {"field": "x", "type": "quantitative", "scale": {"domain": [0, 40]}, "axis": {"values": [0, 10, 20, 30, 40], "titlePadding": 12}, "title": "% D2A1-GFP cells"},
     "y": {"field": "y", "type": "quantitative", "scale": {"domain": [0, 15]}, "axis": {"values": [0, 5, 10, 15]}, "title": "CD11b⁺/CD8⁺"}
    },
    "layer": [
     {"data": {"name": "scatLine"}, "transform": [{"filter": "datum.panel === 'C2'"}], "mark": {"type": "line", "color": "#6cbe45", "strokeWidth": 1.5}, "encoding": {}},
     {"data": {"name": "scat"}, "transform": [{"filter": "datum.panel === 'C2'"}], "mark": {"type": "point", "filled": true, "size": 42, "color": "#6cbe45", "opacity": 1}, "encoding": {}},
     {"data": {"name": "scatText"}, "transform": [{"filter": "datum.panel === 'C2' && datum.style === 'italic'"}], "mark": {"type": "text", "fontStyle": "italic", "fontSize": 11.5, "align": "left", "baseline": "middle", "color": "#1a1a1a"}, "encoding": {"text": {"field": "text"}}},
     {"data": {"name": "scatText"}, "transform": [{"filter": "datum.panel === 'C2' && datum.style === 'normal'"}], "mark": {"type": "text", "fontSize": 11.5, "align": "left", "baseline": "middle", "color": "#1a1a1a"}, "encoding": {"text": {"field": "text"}}}
    ]
   },
   {"width": 95, "height": 132, "data": {"name": "none"}, "mark": "rule", "encoding": {}},
   {
    "width": 130, "height": 131,
    "view": {"stroke": "#1a1a1a", "strokeWidth": 1.5},
    "encoding": {
     "x": {"field": "day", "type": "ordinal", "scale": {"type": "point", "padding": 0.5}, "axis": {"labelAngle": 0, "title": "Days after D2A1-GFP injection", "titlePadding": 12}},
     "y": {"field": "value", "type": "quantitative", "scale": {"domain": [0, 10]}, "axis": {"values": [0, 2, 4, 6, 8, 10], "grid": true, "gridDash": [2, 2], "gridColor": "#8a8a8a", "gridWidth": 1}, "title": "Tumor diameter (mm)"},
     "color": {"field": "series", "type": "nominal", "scale": {"domain": ["IgG", "Anti-Ly6G"], "range": ["#a3a3a3", "#1a1a1a"]},
      "legend": {"orient": "none", "legendX": 3, "legendY": -19, "direction": "horizontal", "title": null, "symbolType": "M-1,0H1M-0.42,0A0.42,0.42,0,1,0,0.42,0A0.42,0.42,0,1,0,-0.42,0Z", "symbolSize": 169, "symbolStrokeWidth": 1.5, "labelFontSize": 11.5, "labelOffset": 8, "columnPadding": 18, "padding": 0,
       "encode": {"symbols": {"update": {"fill": [{"test": "datum.value === 'IgG'", "value": "#a3a3a3"}, {"value": "#1a1a1a"}], "stroke": [{"test": "datum.value === 'IgG'", "value": "#a3a3a3"}, {"value": "#1a1a1a"}], "opacity": {"value": 1}}}}}}
    },
    "layer": [
     {"data": {"name": "tumor"}, "transform": [{"filter": "datum.panel === 'D' && isValid(datum.err)"}], "mark": {"type": "rule", "strokeWidth": 1.2}, "encoding": {"y2": {"field": "err"}}},
     {"data": {"name": "tumor"}, "transform": [{"filter": "datum.panel === 'D' && isValid(datum.err)"}], "mark": {"type": "tick", "orient": "horizontal", "size": 7, "thickness": 1.2}, "encoding": {"y": {"field": "err", "type": "quantitative", "scale": {"domain": [0, 10]}, "axis": {"values": [0, 2, 4, 6, 8, 10], "grid": true, "gridDash": [2, 2], "gridColor": "#8a8a8a", "gridWidth": 1}, "title": "Tumor diameter (mm)"}}},
     {"data": {"name": "tumor"}, "transform": [{"filter": "datum.panel === 'D'"}], "mark": {"type": "line", "strokeWidth": 1.5}, "encoding": {}},
     {"data": {"name": "tumor"}, "transform": [{"filter": "datum.panel === 'D'"}], "mark": {"type": "point", "filled": true, "size": 36, "opacity": 1}, "encoding": {}}
    ]
   },
   {"width": 62, "height": 131, "data": {"name": "none"}, "mark": "rule", "encoding": {}},
   {
    "width": 132, "height": 131,
    "view": {"stroke": "#1a1a1a", "strokeWidth": 1.5},
    "encoding": {
     "x": {"field": "day", "type": "ordinal", "scale": {"type": "point", "padding": 0.5}, "axis": {"labelAngle": 0, "title": "Days after D2A1-GFP injection", "titlePadding": 12}},
     "y": {"field": "value", "type": "quantitative", "scale": {"domain": [0, 4]}, "axis": {"values": [0, 1, 2, 3, 4], "grid": true, "gridDash": [2, 2], "gridColor": "#8a8a8a", "gridWidth": 1}, "title": "Tumor diameter (mm)"},
     "color": {"field": "series", "type": "nominal", "scale": {"domain": ["sgLuc", "sgCCL2"], "range": ["#2e3192", "#c5226b"]},
      "legend": {"orient": "none", "legendX": 3, "legendY": -19, "direction": "horizontal", "title": null, "symbolType": "M-1,0H1M-0.42,0A0.42,0.42,0,1,0,0.42,0A0.42,0.42,0,1,0,-0.42,0Z", "symbolSize": 169, "symbolStrokeWidth": 1.5, "labelFontSize": 11.5, "labelOffset": 8, "columnPadding": 16, "padding": 0,
       "encode": {"symbols": {"update": {"fill": [{"test": "datum.value === 'sgLuc'", "value": "#2e3192"}, {"value": "#c5226b"}], "stroke": [{"test": "datum.value === 'sgLuc'", "value": "#2e3192"}, {"value": "#c5226b"}], "opacity": {"value": 1}}}}}}
    },
    "layer": [
     {"data": {"name": "tumor"}, "transform": [{"filter": "datum.panel === 'E' && isValid(datum.err)"}], "mark": {"type": "rule", "strokeWidth": 1.2}, "encoding": {"y2": {"field": "err"}}},
     {"data": {"name": "tumor"}, "transform": [{"filter": "datum.panel === 'E' && isValid(datum.err)"}], "mark": {"type": "tick", "orient": "horizontal", "size": 7, "thickness": 1.2}, "encoding": {"y": {"field": "err", "type": "quantitative", "scale": {"domain": [0, 4]}, "axis": {"values": [0, 1, 2, 3, 4], "grid": true, "gridDash": [2, 2], "gridColor": "#8a8a8a", "gridWidth": 1}, "title": "Tumor diameter (mm)"}}},
     {"data": {"name": "tumor"}, "transform": [{"filter": "datum.panel === 'E'"}], "mark": {"type": "line", "strokeWidth": 1.5}, "encoding": {}},
     {"data": {"name": "tumor"}, "transform": [{"filter": "datum.panel === 'E'"}], "mark": {"type": "point", "filled": true, "size": 36, "opacity": 1}, "encoding": {}},
     {"data": {"name": "tumorSig"}, "transform": [{"filter": "datum.panel === 'E'"}], "mark": {"type": "text", "fontSize": 12, "fontWeight": "bold", "baseline": "middle", "dy": 3}, "encoding": {"text": {"field": "label"}, "color": {"value": "#333333"}}}
    ]
   }
  ],
  "spacing": 0, "bounds": "flush",
  "resolve": {"scale": {"color": "independent"}, "legend": {"color": "independent"}}
 },
 {"width": 1, "height": 23, "data": {"name": "none"}, "mark": "rule", "encoding": {}},
 {
  "hconcat": [
   {"width": 44, "height": 131, "title": {"text": "F", "anchor": "start", "dx": 3, "offset": 22.5, "fontSize": 13}, "data": {"name": "none"}, "mark": "rule", "encoding": {}},
   {
    "width": 129, "height": 131,
    "title": {"text": "Unwounded mice", "offset": 1.5},
    "view": {"stroke": "#1a1a1a", "strokeWidth": 1.5},
    "encoding": {
     "x": {"field": "day", "type": "ordinal", "scale": {"type": "point", "padding": 0.5}, "axis": {"labelAngle": 0, "title": "Days after D2A1-GFP injection", "titlePadding": 12}},
     "y": {"field": "value", "type": "quantitative", "scale": {"domain": [0, 5]}, "axis": {"values": [0, 1, 2, 3, 4, 5], "grid": true, "gridDash": [2, 2], "gridColor": "#8a8a8a", "gridWidth": 1}, "title": "Tumor diameter (mm)"},
     "color": {"field": "series", "type": "nominal", "scale": {"domain": ["IgG", "Anti-PD1"], "range": ["#2e3192", "#c5226b"]},
      "legend": {"orient": "none", "legendX": 9, "legendY": 1, "direction": "vertical", "title": null, "symbolType": "M-1,0H1M-0.42,0A0.42,0.42,0,1,0,0.42,0A0.42,0.42,0,1,0,-0.42,0Z", "symbolSize": 196, "symbolStrokeWidth": 1.5, "labelFontSize": 11.5, "labelOffset": 8, "rowPadding": 3, "padding": 2, "fillColor": "white",
       "encode": {"symbols": {"update": {"fill": [{"test": "datum.value === 'IgG'", "value": "#2e3192"}, {"value": "#c5226b"}], "stroke": [{"test": "datum.value === 'IgG'", "value": "#2e3192"}, {"value": "#c5226b"}], "opacity": {"value": 1}}}}}}
    },
    "layer": [
     {"data": {"name": "tumor"}, "transform": [{"filter": "datum.panel === 'F1' && isValid(datum.err)"}], "mark": {"type": "rule", "strokeWidth": 1.2}, "encoding": {"y2": {"field": "err"}}},
     {"data": {"name": "tumor"}, "transform": [{"filter": "datum.panel === 'F1' && isValid(datum.err)"}], "mark": {"type": "tick", "orient": "horizontal", "size": 7, "thickness": 1.2}, "encoding": {"y": {"field": "err", "type": "quantitative", "scale": {"domain": [0, 5]}, "axis": {"values": [0, 1, 2, 3, 4, 5], "grid": true, "gridDash": [2, 2], "gridColor": "#8a8a8a", "gridWidth": 1}, "title": "Tumor diameter (mm)"}}},
     {"data": {"name": "tumor"}, "transform": [{"filter": "datum.panel === 'F1'"}], "mark": {"type": "line", "strokeWidth": 1.5}, "encoding": {}},
     {"data": {"name": "tumor"}, "transform": [{"filter": "datum.panel === 'F1'"}], "mark": {"type": "point", "filled": true, "size": 36, "opacity": 1}, "encoding": {}},
     {"data": {"name": "tumorSig"}, "transform": [{"filter": "datum.panel === 'F1'"}], "mark": {"type": "text", "fontSize": 12, "fontWeight": "bold", "baseline": "middle", "dy": 3}, "encoding": {"text": {"field": "label"}, "color": {"value": "#333333"}}}
    ]
   },
   {"width": 62, "height": 131, "data": {"name": "none"}, "mark": "rule", "encoding": {}},
   {
    "width": 128, "height": 131,
    "title": {"text": "Wounded mice", "offset": 1.5},
    "view": {"stroke": "#1a1a1a", "strokeWidth": 1.5},
    "encoding": {
     "x": {"field": "day", "type": "ordinal", "scale": {"type": "point", "padding": 0.5}, "axis": {"labelAngle": 0, "title": "Days after D2A1-GFP injection", "titlePadding": 12}},
     "y": {"field": "value", "type": "quantitative", "scale": {"domain": [0, 5]}, "axis": {"values": [0, 1, 2, 3, 4, 5], "grid": true, "gridDash": [2, 2], "gridColor": "#8a8a8a", "gridWidth": 1}, "title": "Tumor diameter (mm)"},
     "color": {"field": "series", "type": "nominal", "scale": {"domain": ["IgG", "Anti-PD1"], "range": ["#2e3192", "#c5226b"]},
      "legend": {"orient": "none", "legendX": 9, "legendY": 1, "direction": "vertical", "title": null, "symbolType": "M-1,0H1M-0.42,0A0.42,0.42,0,1,0,0.42,0A0.42,0.42,0,1,0,-0.42,0Z", "symbolSize": 196, "symbolStrokeWidth": 1.5, "labelFontSize": 11.5, "labelOffset": 8, "rowPadding": 3, "padding": 2, "fillColor": "white",
       "encode": {"symbols": {"update": {"fill": [{"test": "datum.value === 'IgG'", "value": "#2e3192"}, {"value": "#c5226b"}], "stroke": [{"test": "datum.value === 'IgG'", "value": "#2e3192"}, {"value": "#c5226b"}], "opacity": {"value": 1}}}}}}
    },
    "layer": [
     {"data": {"name": "tumor"}, "transform": [{"filter": "datum.panel === 'F2' && isValid(datum.err)"}], "mark": {"type": "rule", "strokeWidth": 1.2}, "encoding": {"y2": {"field": "err"}}},
     {"data": {"name": "tumor"}, "transform": [{"filter": "datum.panel === 'F2' && isValid(datum.err)"}], "mark": {"type": "tick", "orient": "horizontal", "size": 7, "thickness": 1.2}, "encoding": {"y": {"field": "err", "type": "quantitative", "scale": {"domain": [0, 5]}, "axis": {"values": [0, 1, 2, 3, 4, 5], "grid": true, "gridDash": [2, 2], "gridColor": "#8a8a8a", "gridWidth": 1}, "title": "Tumor diameter (mm)"}}},
     {"data": {"name": "tumor"}, "transform": [{"filter": "datum.panel === 'F2'"}], "mark": {"type": "line", "strokeWidth": 1.5}, "encoding": {}},
     {"data": {"name": "tumor"}, "transform": [{"filter": "datum.panel === 'F2'"}], "mark": {"type": "point", "filled": true, "size": 36, "opacity": 1}, "encoding": {}},
     {"data": {"name": "tumorSig"}, "transform": [{"filter": "datum.panel === 'F2'"}], "mark": {"type": "text", "fontSize": 12, "fontWeight": "bold", "baseline": "middle", "dy": 3}, "encoding": {"text": {"field": "label"}, "color": {"value": "#333333"}}}
    ]
   },
   {"width": 100, "height": 131, "title": {"text": "G", "anchor": "start", "dx": 55, "offset": 22.5, "fontSize": 13}, "data": {"name": "none"}, "mark": "rule", "encoding": {}},
   {
    "width": 129, "height": 131,
    "title": {"text": "Unwounded mice", "offset": 1.5},
    "view": {"stroke": "#1a1a1a", "strokeWidth": 1.5},
    "encoding": {
     "x": {"field": "day", "type": "ordinal", "scale": {"type": "point", "padding": 0.5}, "axis": {"labelAngle": 0, "title": "Days after D2A1-GFP injection", "titlePadding": 12}},
     "y": {"field": "value", "type": "quantitative", "scale": {"domain": [0, 8]}, "axis": {"values": [0, 2, 4, 6, 8], "grid": true, "gridDash": [2, 2], "gridColor": "#8a8a8a", "gridWidth": 1}, "title": "Tumor diameter (mm)"},
     "color": {"field": "series", "type": "nominal", "scale": {"domain": ["Saline", "Meloxicam"], "range": ["#a3a3a3", "#1a1a1a"]},
      "legend": {"orient": "none", "legendX": 9, "legendY": 1, "direction": "vertical", "title": null, "symbolType": "M-1,0H1M-0.42,0A0.42,0.42,0,1,0,0.42,0A0.42,0.42,0,1,0,-0.42,0Z", "symbolSize": 196, "symbolStrokeWidth": 1.5, "labelFontSize": 11.5, "labelOffset": 8, "rowPadding": 3, "padding": 2, "fillColor": "white",
       "encode": {"symbols": {"update": {"fill": [{"test": "datum.value === 'Saline'", "value": "#a3a3a3"}, {"value": "#1a1a1a"}], "stroke": [{"test": "datum.value === 'Saline'", "value": "#a3a3a3"}, {"value": "#1a1a1a"}], "opacity": {"value": 1}}}}}}
    },
    "layer": [
     {"data": {"name": "tumor"}, "transform": [{"filter": "datum.panel === 'G1' && isValid(datum.err)"}], "mark": {"type": "rule", "strokeWidth": 1.2}, "encoding": {"y2": {"field": "err"}}},
     {"data": {"name": "tumor"}, "transform": [{"filter": "datum.panel === 'G1' && isValid(datum.err)"}], "mark": {"type": "tick", "orient": "horizontal", "size": 7, "thickness": 1.2}, "encoding": {"y": {"field": "err", "type": "quantitative", "scale": {"domain": [0, 8]}, "axis": {"values": [0, 2, 4, 6, 8], "grid": true, "gridDash": [2, 2], "gridColor": "#8a8a8a", "gridWidth": 1}, "title": "Tumor diameter (mm)"}}},
     {"data": {"name": "tumor"}, "transform": [{"filter": "datum.panel === 'G1'"}], "mark": {"type": "line", "strokeWidth": 1.5}, "encoding": {}},
     {"data": {"name": "tumor"}, "transform": [{"filter": "datum.panel === 'G1'"}], "mark": {"type": "point", "filled": true, "size": 36, "opacity": 1}, "encoding": {}}
    ]
   },
   {"width": 62, "height": 131, "data": {"name": "none"}, "mark": "rule", "encoding": {}},
   {
    "width": 133, "height": 131,
    "title": {"text": "Wounded mice", "offset": 1.5},
    "view": {"stroke": "#1a1a1a", "strokeWidth": 1.5},
    "encoding": {
     "x": {"field": "day", "type": "ordinal", "scale": {"type": "point", "padding": 0.5}, "axis": {"labelAngle": 0, "title": "Days after D2A1-GFP injection", "titlePadding": 12}},
     "y": {"field": "value", "type": "quantitative", "scale": {"domain": [0, 8]}, "axis": {"values": [0, 2, 4, 6, 8], "grid": true, "gridDash": [2, 2], "gridColor": "#8a8a8a", "gridWidth": 1}, "title": "Tumor diameter (mm)"},
     "color": {"field": "series", "type": "nominal", "scale": {"domain": ["Saline", "Meloxicam"], "range": ["#2e3192", "#c5226b"]},
      "legend": {"orient": "none", "legendX": 9, "legendY": 1, "direction": "vertical", "title": null, "symbolType": "M-1,0H1M-0.42,0A0.42,0.42,0,1,0,0.42,0A0.42,0.42,0,1,0,-0.42,0Z", "symbolSize": 196, "symbolStrokeWidth": 1.5, "labelFontSize": 11.5, "labelOffset": 8, "rowPadding": 3, "padding": 2, "fillColor": "white",
       "encode": {"symbols": {"update": {"fill": [{"test": "datum.value === 'Saline'", "value": "#2e3192"}, {"value": "#c5226b"}], "stroke": [{"test": "datum.value === 'Saline'", "value": "#2e3192"}, {"value": "#c5226b"}], "opacity": {"value": 1}}}}}}
    },
    "layer": [
     {"data": {"name": "tumor"}, "transform": [{"filter": "datum.panel === 'G2' && isValid(datum.err)"}], "mark": {"type": "rule", "strokeWidth": 1.2}, "encoding": {"y2": {"field": "err"}}},
     {"data": {"name": "tumor"}, "transform": [{"filter": "datum.panel === 'G2' && isValid(datum.err)"}], "mark": {"type": "tick", "orient": "horizontal", "size": 7, "thickness": 1.2}, "encoding": {"y": {"field": "err", "type": "quantitative", "scale": {"domain": [0, 8]}, "axis": {"values": [0, 2, 4, 6, 8], "grid": true, "gridDash": [2, 2], "gridColor": "#8a8a8a", "gridWidth": 1}, "title": "Tumor diameter (mm)"}}},
     {"data": {"name": "tumor"}, "transform": [{"filter": "datum.panel === 'G2'"}], "mark": {"type": "line", "strokeWidth": 1.5}, "encoding": {}},
     {"data": {"name": "tumor"}, "transform": [{"filter": "datum.panel === 'G2'"}], "mark": {"type": "point", "filled": true, "size": 36, "opacity": 1}, "encoding": {}},
     {"data": {"name": "tumorSig"}, "transform": [{"filter": "datum.panel === 'G2'"}], "mark": {"type": "text", "fontSize": 12, "fontWeight": "bold", "baseline": "middle", "dy": 3}, "encoding": {"text": {"field": "label"}, "color": {"value": "#333333"}}}
    ]
   }
  ],
  "spacing": 0, "bounds": "flush",
  "resolve": {"scale": {"color": "independent"}, "legend": {"color": "independent"}}
 }
],
"config": {
 "font": "Liberation Sans",
 "view": {"stroke": null},
 "axis": {"labelFont": "Liberation Sans", "labelFontSize": 10.5, "labelFontWeight": "bold", "labelColor": "#1a1a1a", "titleFont": "Liberation Sans", "titleFontSize": 10.5, "titleFontWeight": "bold", "titleColor": "#1a1a1a", "domainColor": "#1a1a1a", "domainWidth": 1.5, "tickColor": "#1a1a1a", "tickWidth": 1.5, "tickSize": 4, "grid": false, "labelPadding": 2, "titlePadding": 5, "labelFlush": false, "labelOverlap": false},
 "title": {"font": "Liberation Sans", "fontSize": 11, "fontWeight": "bold", "color": "#1a1a1a", "frame": "group", "anchor": "middle"},
 "legend": {"labelFont": "Liberation Sans", "labelFontSize": 11, "labelColor": "#1a1a1a", "labelFontWeight": "normal"},
 "text": {"font": "Liberation Sans"}
}
}
